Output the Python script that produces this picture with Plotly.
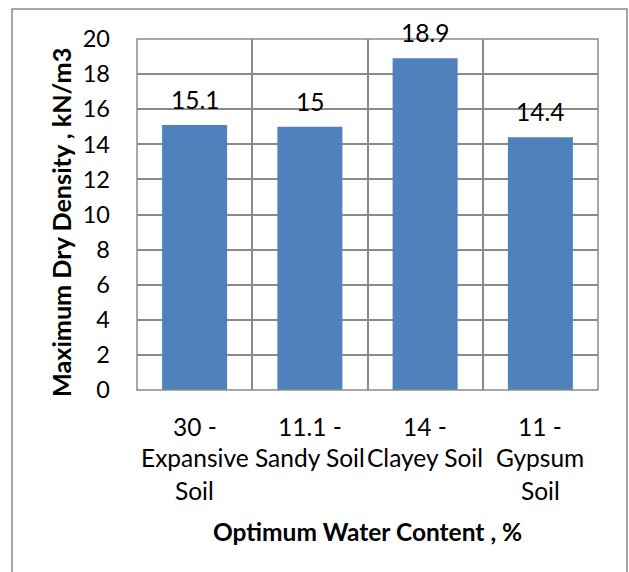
import plotly.graph_objects as go

# Soil types with their optimum water content (%) and maximum dry density (kN/m3)
water_content = ["30 -", "11.1 -", "14 -", "11 -"]
soil_names = [["Expansive", "Soil"], ["Sandy Soil"], ["Clayey Soil"], ["Gypsum", "Soil"]]
max_dry_density = [15.1, 15.0, 18.9, 14.4]
y_ticks = [0, 2, 4, 6, 8, 10, 12, 14, 16, 18, 20]

categories = [f"{w} {' '.join(s)}" for w, s in zip(water_content, soil_names)]

FONT = "Lato, Calibri, Carlito, sans-serif"
GRID = "#8a8a8a"
BAR = "#4F81BD"
TXT = 24.5

W, H = 629, 572
ML, MR, MT, MB = 137, 31, 39, 182
pw, ph = W - ML - MR, H - MT - MB


def px_x(x):
    return (x - ML) / pw


def px_y(y):
    return (H - MB - y) / ph


fig = go.Figure(
    go.Bar(
        x=categories,
        y=max_dry_density,
        marker=dict(color=BAR, line=dict(width=0)),
        hoverinfo="x+y",
    )
)

# value labels above each bar
for c, v in zip(categories, max_dry_density):
    fig.add_annotation(
        x=c, y=v, text=f"{v:g}", showarrow=False,
        yanchor="bottom", yshift=9,
        font=dict(family=FONT, size=TXT, color="#000"),
    )

# multi-line category labels
LINE_STEP = 32
for c, w, s in zip(categories, water_content, soil_names):
    for i, line in enumerate([w] + s):
        fig.add_annotation(
            x=c, xref="x", y=px_y(426 + i * LINE_STEP), yref="paper",
            text=line, showarrow=False, yanchor="middle",
            font=dict(family=FONT, size=TXT, color="#000"),
        )

# axis titles
fig.add_annotation(
    x=0.5, xref="paper", y=px_y(531), yref="paper",
    text="<b>Optimum Water Content , %</b>", showarrow=False,
    yanchor="middle", xanchor="center",
    font=dict(family=FONT, size=24.5, color="#000"),
)
fig.add_annotation(
    x=px_x(61), xref="paper", y=px_y(223), yref="paper",
    text="<b>Maximum Dry Density , kN/m3</b>", showarrow=False,
    textangle=-90, yanchor="middle", xanchor="center",
    font=dict(family=FONT, size=25.2, color="#000"),
)

# plot-area border
fig.add_shape(
    type="rect", xref="paper", yref="paper", x0=0, x1=1, y0=0, y1=1,
    line=dict(color=GRID, width=1.5), fillcolor="rgba(0,0,0,0)", layer="above",
)
# outer chart frame (extends past the bottom edge)
fig.add_shape(
    type="rect", xref="paper", yref="paper",
    x0=px_x(12), x1=px_x(627), y0=px_y(620), y1=px_y(9),
    line=dict(color=GRID, width=1.5), fillcolor="rgba(0,0,0,0)", layer="below",
)

fig.update_layout(
    width=W, height=H,
    margin=dict(l=ML, r=MR, t=MT, b=MB),
    paper_bgcolor="white", plot_bgcolor="white",
    bargap=0.436,
    showlegend=False,
    font=dict(family=FONT, size=TXT, color="#000"),
    xaxis=dict(
        type="category",
        tickson="boundaries",
        showticklabels=False,
        showgrid=True, gridcolor=GRID, gridwidth=1.5,
        showline=False,
        ticks="", automargin=False,
        zeroline=False,
    ),
    yaxis=dict(
        range=[0, 20],
        tickvals=y_ticks,
        showgrid=True, gridcolor=GRID, gridwidth=1.5,
        showline=False,
        ticks="", ticklabelstandoff=26, automargin=False,
        tickfont=dict(family=FONT, size=23.5),
        zeroline=False,
    ),
)

fig.write_html("out.html")
